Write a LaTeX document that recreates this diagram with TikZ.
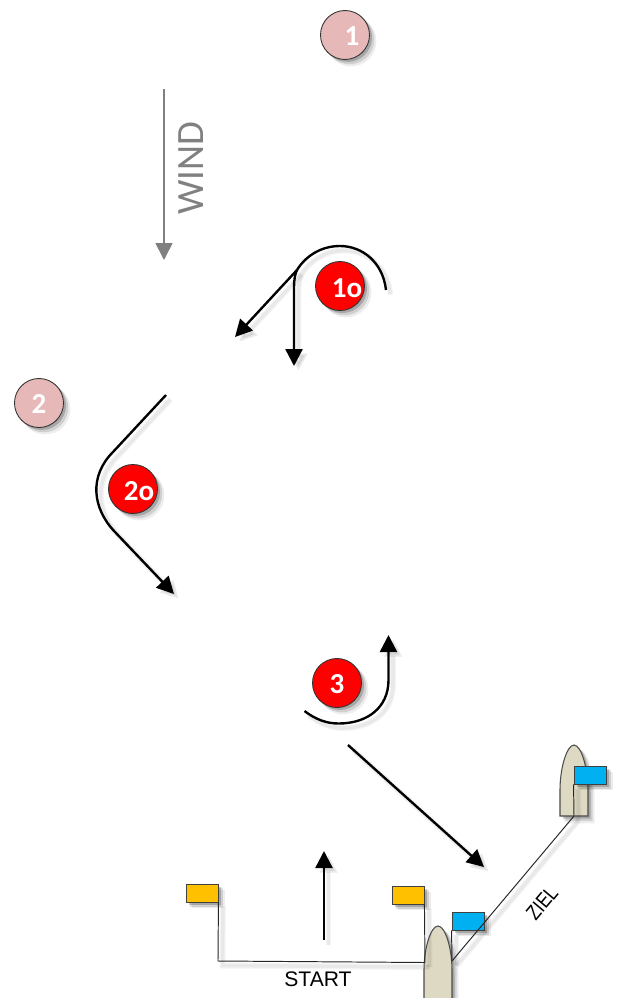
\documentclass[tikz,border=0pt]{standalone}
\usepackage{fontspec}
\setmainfont{Carlito}
\newfontfamily\arialfont{Liberation Sans}
\usepackage{xcolor}
\usetikzlibrary{arrows.meta}
\usetikzlibrary{calc}
\usetikzlibrary{shadows}
\definecolor{markred}{HTML}{FF0000}
\definecolor{markpink}{HTML}{E6B8B7}
\definecolor{flagyellow}{HTML}{FFC000}
\definecolor{flagblue}{HTML}{00B0F0}
\definecolor{boatfill}{HTML}{DDD9C3}
\tikzset{
  softshadow/.style={
    general shadow={shadow xshift=0.12cm, shadow yshift=-0.12cm, shadow scale=1.03, fill=black, opacity=.07},
    general shadow={shadow xshift=0.09cm, shadow yshift=-0.09cm, shadow scale=1.01, fill=black, opacity=.12},
    general shadow={shadow xshift=0.05cm, shadow yshift=-0.05cm, fill=black, opacity=.20},
  },
  lineshadow/.style={
    preaction={draw=black, opacity=.04, line width=3.4pt,
      transform canvas={shift={(0.09,-0.09)}}},
    preaction={draw=black, opacity=.05, line width=2pt,
      transform canvas={shift={(0.09,-0.09)}}},
  },
  markcircle/.style={circle, draw=black!80, line width=0.5pt, minimum size=0.98cm, inner sep=0pt, softshadow},
  markfirst/.style={markcircle, fill=markpink},
  marksecond/.style={markcircle, fill=markred},
  marktext/.style={text=white, font=\fontsize{16.5}{18}\selectfont\bfseries, inner sep=0pt},
  flag/.style={rectangle, draw=black!75, line width=0.5pt, minimum width=0.64cm, minimum height=0.36cm, inner sep=0pt, softshadow},
  boat/.style={draw=black!70, line width=0.6pt, fill=boatfill, softshadow},
  course/.style={draw=black, line width=1.35pt, lineshadow},
  thinline/.style={draw=black!85, line width=0.55pt, lineshadow},
}

\begin{document}
\begin{tikzpicture}[
  >={Triangle[length=0.34cm, width=0.34cm]},
]
  \useasboundingbox (0,0) rectangle (12.38,-19.96);

  \coordinate (windtop)   at ( 3.28,  -1.78 );
  \coordinate (windtip)   at ( 3.28,  -5.20 );

  \coordinate (joint)     at ( 5.94,  -5.40 );
  \coordinate (leftend)   at ( 4.70,  -6.74 );
  \coordinate (downend)   at ( 5.88,  -7.32 );

  \coordinate (leavefrom) at ( 6.96, -14.90 );
  \coordinate (leaveto)   at ( 9.68, -17.34 );
  \coordinate (upfrom)    at ( 6.48, -18.80 );
  \coordinate (upto)      at ( 6.48, -17.02 );

  \coordinate (startfoot) at ( 4.36, -19.22 );
  \coordinate (startboat) at ( 8.50, -19.25 );
  \coordinate (zielboat)  at ( 9.04, -19.22 );
  \coordinate (zielfoot)  at ( 11.48, -16.32 );

  % Wind
  \draw[->, draw=gray, fill=gray, line width=1pt] (windtop) -- (windtip);
  \node[rotate=90, text=gray, inner sep=0pt, font=\fontsize{22}{24}\selectfont] (wind) at (3.82, -3.36) {WIND};

  % Marks
  \node[markfirst] (one) at (6.90, -0.70) {};
  \node[marktext] (onetext) at (7.04, -0.72) {1};
  \node[markfirst] (two) at (0.78, -8.06) {};
  \node[marktext] (twotext) at (0.78, -8.08) {2};
  \node[marksecond] (oneo) at (6.80, -5.72) {};
  \node[marktext] (oneotext) at (6.94, -5.76) {1o};
  \node[marksecond] (twoo) at (2.66, -9.78) {};
  \node[marktext] (twootext) at (2.78, -9.82) {2o};
  \node[marksecond] (three) at (6.74, -13.66) {};
  \node[marktext] (threetext) at (6.74, -13.68) {3};

  % Rounding 1
  \draw[course] (7.72, -5.80) .. controls (7.66, -5.25) and (7.25, -4.92) .. (6.80, -4.92)
    .. controls (6.40, -4.92) and (6.10, -5.14) .. (joint);
  \draw[course, ->] (joint) -- (leftend);
  \draw[course, ->] (joint) .. controls (5.90, -5.48) and (5.88, -5.60) .. (5.88, -5.75) -- (downend);

  % Rounding 2
  \draw[course, ->] (3.32, -7.90) -- (2.26, -9.04)
    .. controls (1.78, -9.52) and (1.84, -10.16) .. (2.30, -10.64) -- (3.48, -11.88);

  % Rounding 3
  \draw[course, ->] (6.09, -14.22) .. controls (6.30, -14.38) and (6.52, -14.47) .. (6.77, -14.47)
    .. controls (7.35, -14.47) and (7.77, -14.15) .. (7.77, -13.60) -- (7.77, -12.70);

  % Course to the line
  \draw[course, ->] (leavefrom) -- (leaveto);
  \draw[course, ->] (upfrom) -- (upto);

  % Boats
  \draw[boat] (8.48, -20.10) -- (8.48, -19.40) .. controls (8.48, -18.95) and (8.62, -18.52) .. (8.76, -18.52)
    .. controls (8.90, -18.52) and (9.04, -18.95) .. (9.04, -19.40) -- (9.04, -20.10) -- cycle;
  \draw[boat] (11.20, -16.32) -- (11.20, -15.80) .. controls (11.20, -15.35) and (11.34, -14.90) .. (11.48, -14.90)
    .. controls (11.62, -14.90) and (11.76, -15.35) .. (11.76, -15.80) -- (11.76, -16.32) -- cycle;

  % Flags
  \node[flag, fill=flagyellow] (yellowa) at (4.04, -17.86) {};
  \node[flag, fill=flagyellow] (yellowb) at (8.16, -17.90) {};
  \node[flag, fill=flagblue] (bluea) at (9.36, -18.42) {};
  \node[flag, fill=flagblue] (blueb) at (11.80, -15.50) {};

  % Start and finish lines
  \draw[thinline] (yellowa.south east) -- (startfoot) -- (startboat);
  \draw[thinline] (yellowb.south east) -- (startboat);
  \draw[thinline] (bluea.south west) -- (zielboat);
  \draw[thinline] (blueb.south west) -- (zielfoot);
  \draw[thinline] (zielfoot) -- (zielboat);

  % Line labels
  \node[inner sep=0pt, font=\arialfont\fontsize{12}{14}\selectfont] (start) at (6.36, -19.58) {START};
  \node[rotate=50, xscale=0.82, inner sep=0pt, font=\arialfont\fontsize{12}{14}\selectfont] (ziel) at (10.84, -18.06) {ZIEL};

\end{tikzpicture}
\end{document}
